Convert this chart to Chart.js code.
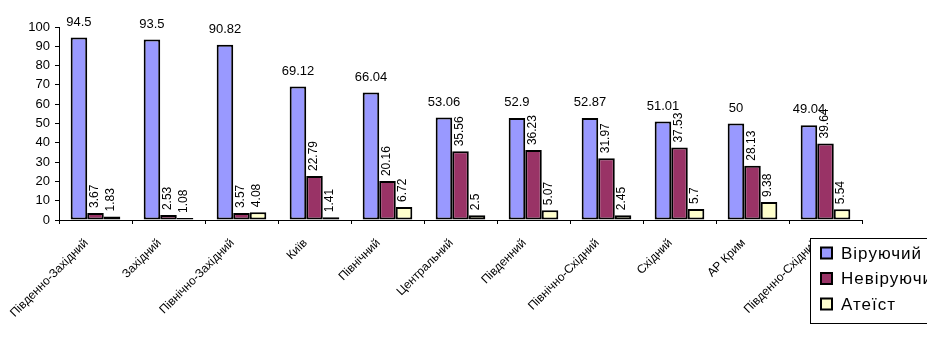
<!DOCTYPE html>
<html>
<head>
<meta charset="utf-8">
<script src="https://cdn.jsdelivr.net/npm/chart.js@4/dist/chart.umd.min.js"></script>
<style>
  html,body{margin:0;padding:0;background:#fff;}
  #wrap{width:927px;height:342px;position:relative;}
</style>
</head>
<body>
<div id="wrap"><canvas id="c" width="927" height="342"></canvas></div>
<script>
const categories = ["Південно-Західний","Західний","Північно-Західний","Київ","Північний","Центральний","Південний","Північно-Східний","Східний","АР Крим","Південно-Східний"];
const seriesNames = ["Віруючий","Невіруючий","Атеїст"];
const believers = [94.5, 93.5, 90.82, 69.12, 66.04, 53.06, 52.9, 52.87, 51.01, 50, 49.04];
const nonBelievers = [3.67, 2.53, 3.57, 22.79, 20.16, 35.56, 36.23, 31.97, 37.53, 28.13, 39.64];
const atheists = [1.83, 1.08, 4.08, 1.41, 6.72, 2.5, 5.07, 2.45, 5.7, 9.38, 5.54];
const yTicks = [0,10,20,30,40,50,60,70,80,90,100];

const FONT = "Arial, 'Liberation Sans', sans-serif";
const colors = ["#9999FF", "#993366", "#FFFFCC"];

const valueLabels = {
  id: 'valueLabels',
  afterDatasetsDraw(chart) {
    const ctx = chart.ctx;
    ctx.save();
    ctx.fillStyle = '#000';
    chart.data.datasets.forEach((ds, di) => {
      const meta = chart.getDatasetMeta(di);
      meta.data.forEach((bar, i) => {
        const v = ds.data[i];
        const txt = String(v);
        if (di === 0) {
          ctx.font = "13px " + FONT;
          ctx.textAlign = 'center';
          ctx.textBaseline = 'bottom';
          ctx.fillText(txt, bar.x, bar.y - 9);
        } else {
          ctx.font = "12px " + FONT;
          ctx.save();
          ctx.translate(bar.x - 1, bar.y - 5);
          ctx.rotate(-Math.PI / 2);
          ctx.textAlign = 'left';
          ctx.textBaseline = 'middle';
          ctx.fillText(txt, 0, 0);
          ctx.restore();
        }
      });
    });
    ctx.restore();
  }
};

const boxLegend = {
  id: 'boxLegend',
  afterDraw(chart) {
    const ctx = chart.ctx;
    ctx.save();
    const bx = 810.5, by = 238.5, bw = 140, bh = 85;
    ctx.fillStyle = '#fff';
    ctx.fillRect(bx, by, bw, bh);
    ctx.strokeStyle = '#000';
    ctx.lineWidth = 1;
    ctx.strokeRect(bx, by, bw, bh);
    const rows = [253, 278.5, 304];
    ctx.font = "17px " + FONT;
    try { ctx.letterSpacing = '1px'; } catch(e) {}
    ctx.textAlign = 'left';
    ctx.textBaseline = 'middle';
    chart.data.datasets.forEach((ds, i) => {
      const y = rows[i];
      ctx.fillStyle = ds.backgroundColor;
      ctx.fillRect(821, y - 5.5, 11, 11);
      ctx.lineWidth = 2;
      ctx.strokeStyle = '#000';
      ctx.strokeRect(821, y - 5.5, 11, 11);
      ctx.fillStyle = '#000';
      ctx.fillText(ds.label, 841, y + 1);
    });
    ctx.restore();
  }
};

new Chart(document.getElementById('c'), {
  type: 'bar',
  data: {
    labels: categories,
    datasets: [
      { label: seriesNames[0], data: believers, backgroundColor: colors[0] },
      { label: seriesNames[1], data: nonBelievers, backgroundColor: colors[1] },
      { label: seriesNames[2], data: atheists, backgroundColor: colors[2] }
    ].map(d => Object.assign(d, { borderColor: '#000', borderWidth: 2, borderSkipped: false, categoryPercentage: 0.68, barPercentage: 1.0 }))
  },
  options: {
    responsive: false,
    animation: false,
    devicePixelRatio: 1,
    layout: { padding: { top: 27, right: 65, left: 0, bottom: 0 } },
    plugins: { legend: { display: false }, tooltip: { enabled: false } },
    scales: {
      x: {
        offset: true,
        grid: { offset: true, drawOnChartArea: false, drawTicks: true, tickLength: 4, color: '#000', lineWidth: 1 },
        border: { display: true, color: '#000', width: 1 },
        ticks: { minRotation: 45, maxRotation: 45, autoSkip: false, color: '#000', padding: 12, labelOffset: -9, font: { size: 12, family: FONT } },
        afterFit(scale) { scale.height = 122; }
      },
      y: {
        min: 0, max: 100,
        afterBuildTicks(scale) { scale.ticks = yTicks.map(v => ({ value: v })); },
        grid: { drawOnChartArea: false, drawTicks: true, tickLength: 4, color: '#000', lineWidth: 1 },
        border: { display: true, color: '#000', width: 1 },
        ticks: { color: '#000', padding: 5, font: { size: 13, family: FONT } },
        afterFit(scale) { scale.width = 59; }
      }
    }
  },
  plugins: [valueLabels, boxLegend]
});
</script>
</body>
</html>
